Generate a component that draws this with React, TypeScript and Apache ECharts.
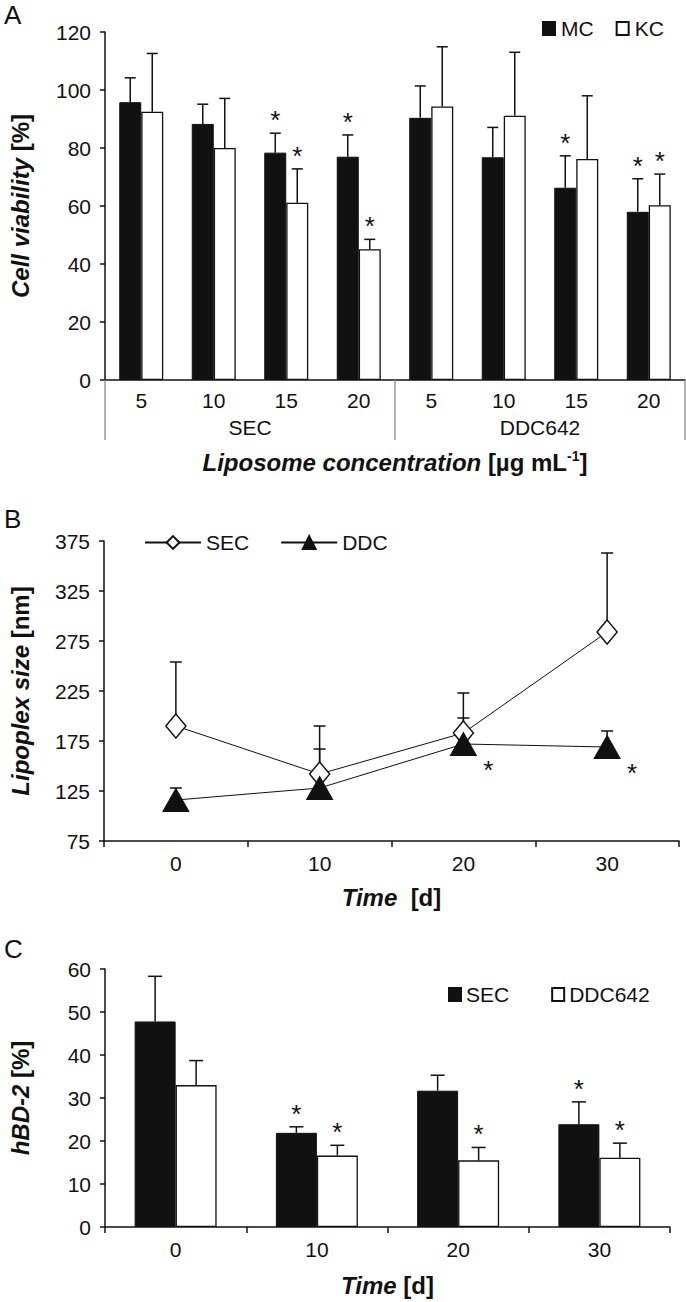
import React, { useEffect, useRef } from 'react';
import * as echarts from 'echarts';

const FONT = "'Liberation Sans', Arial, Helvetica, sans-serif";
const INK = '#111';

// ---------- Panel A: cell viability ----------
const concCategories = ['5', '10', '15', '20', '5', '10', '15', '20'];
const liposomeGroups = ['SEC', 'DDC642'];
const mcMean = [95.8, 88.3, 78.4, 77.0, 90.4, 76.8, 66.3, 58.0];
const mcSd = [8.4, 6.8, 6.7, 7.5, 11.0, 10.3, 11.0, 11.4];
const mcStar = [0, 0, 1, 1, 0, 0, 1, 1];
const kcMean = [92.5, 80.0, 61.1, 45.1, 94.3, 91.1, 76.2, 60.3];
const kcSd = [20.1, 17.1, 11.7, 3.4, 20.6, 21.9, 21.8, 10.7];
const kcStar = [0, 0, 1, 1, 0, 0, 0, 1];

// ---------- Panel B: lipoplex size ----------
const timeCategories = ['0', '10', '20', '30'];
const secSize = [190, 142, 183, 284];
const secSizeSd = [64, 48, 40, 79];
const secSizeStar = [0, 0, 0, 0];
const ddcSize = [116, 128, 172, 169];
const ddcSizeSd = [12, 39, 26, 16];
const ddcSizeStar = [0, 0, 1, 1];

// ---------- Panel C: hBD-2 ----------
const secHbd = [47.8, 21.9, 31.7, 23.9];
const secHbdSd = [10.5, 1.4, 3.6, 5.2];
const secHbdStar = [0, 1, 0, 1];
const ddcHbd = [33.0, 16.6, 15.5, 16.1];
const ddcHbdSd = [5.7, 2.4, 3.0, 3.4];
const ddcHbdStar = [0, 1, 1, 1];

const TICK = 21;
const TITLE = 24;

function errorSeries(
  xAxisIndex: number,
  yAxisIndex: number,
  means: number[],
  sds: number[],
  stars: number[],
  dx: number,
  capW: number,
  starMode: 'top' | 'point',
) {
  return {
    type: 'custom',
    xAxisIndex,
    yAxisIndex,
    z: 3,
    silent: true,
    data: means.map((m, i) => [i, m, sds[i], stars[i]]),
    encode: { x: 0, y: 1 },
    renderItem: (_p: any, api: any) => {
      const idx = api.value(0);
      const m = api.value(1);
      const s = api.value(2);
      const base = api.coord([idx, m]);
      const top = api.coord([idx, m + s]);
      const x = base[0] + dx;
      const st = { stroke: INK, lineWidth: 1.5 };
      const children: any[] = [
        { type: 'line', shape: { x1: x, y1: base[1], x2: x, y2: top[1] }, style: st },
        { type: 'line', shape: { x1: x - capW / 2, y1: top[1], x2: x + capW / 2, y2: top[1] }, style: st },
      ];
      if (api.value(3)) {
        const sx = starMode === 'top' ? x : x + 25;
        const sy = starMode === 'top' ? top[1] - 13 : base[1] + 26;
        children.push({
          type: 'text',
          x: sx,
          y: sy,
          style: {
            text: '*',
            fill: INK,
            font: `26px ${FONT}`,
            textAlign: 'center',
            textVerticalAlign: 'middle',
          },
        });
      }
      return { type: 'group', children };
    },
  };
}

const axisLabelStyle = { fontSize: TICK, color: INK, fontFamily: FONT };
const titleRich = {
  i: { fontStyle: 'italic', fontWeight: 'bold', fontSize: TITLE, fontFamily: FONT, color: INK, lineHeight: 26 },
  b: { fontWeight: 'bold', fontSize: TITLE, fontFamily: FONT, color: INK, lineHeight: 26 },
  sup: { fontWeight: 'bold', fontSize: 14, fontFamily: FONT, color: INK, verticalAlign: 'top', lineHeight: 26, padding: [0, 0, 12, 0] },
};

function yAxisCommon(gridIndex: number, min: number, max: number, interval: number, name: string, nameGap: number) {
  return {
    type: 'value',
    gridIndex,
    min,
    max,
    interval,
    name,
    nameLocation: 'middle',
    nameGap,
    nameTextStyle: { rich: titleRich },
    axisLine: { show: true, lineStyle: { color: INK, width: 1.5 } },
    axisTick: { show: true, length: 5, lineStyle: { color: INK, width: 1.5 } },
    splitLine: { show: false },
    axisLabel: { ...axisLabelStyle, margin: 14 },
  };
}

export default function App() {
  const ref = useRef<HTMLDivElement>(null);
  useEffect(() => {
    document.body.style.margin = '0';
    const chart = echarts.init(ref.current!, null, { renderer: 'svg' });
    const option: any = {
      animation: false,
      backgroundColor: '#fff',
      textStyle: { fontFamily: FONT },
      grid: [
        { left: 93, top: 32, width: 592, height: 348 },
        { left: 93, top: 541, width: 586, height: 300 },
        { left: 95, top: 969, width: 575, height: 258 },
      ],
      legend: [
        {
          data: ['MC', 'KC'],
          left: 542,
          top: 18,
          padding: 0,
          icon: 'rect',
          itemWidth: 12,
          itemHeight: 13,
          itemGap: 22,
          textStyle: { fontSize: TICK, color: INK, fontFamily: FONT, padding: [0, 0, 0, 1] },
        },
        {
          data: ['SEC_B', 'DDC_B'],
          left: 144,
          top: 532,
          padding: 0,
          itemWidth: 56,
          itemHeight: 16,
          itemGap: 31,
          formatter: (n: string) => n.replace(/_.*/, ''),
          textStyle: { fontSize: TICK, color: INK, fontFamily: FONT },
        },
        {
          data: ['SEC_C', 'DDC642_C'],
          left: 448,
          top: 984,
          padding: 0,
          icon: 'rect',
          itemWidth: 12,
          itemHeight: 13,
          itemGap: 42,
          formatter: (n: string) => n.replace(/_.*/, ''),
          textStyle: { fontSize: TICK, color: INK, fontFamily: FONT },
        },
      ],
      xAxis: [
        {
          type: 'category',
          gridIndex: 0,
          data: concCategories,
          axisLine: { lineStyle: { color: INK, width: 1.5 } },
          axisTick: { show: false },
          axisLabel: { ...axisLabelStyle, margin: 10, interval: 0 },
        },
        {
          type: 'category',
          gridIndex: 0,
          position: 'bottom',
          offset: 0,
          data: liposomeGroups,
          axisLine: { show: false },
          axisTick: { show: true, length: 60, interval: 0, lineStyle: { color: '#999', width: 1.5 } },
          axisLabel: { ...axisLabelStyle, margin: 37, interval: 0 },
          name: '{i|Liposome concentration }{b|[µg mL}{sup|-1}{b|]}',
          nameLocation: 'middle',
          nameGap: 69,
          nameTextStyle: { rich: titleRich },
        },
        {
          type: 'category',
          gridIndex: 1,
          data: timeCategories,
          axisLine: { lineStyle: { color: INK, width: 1.5 } },
          axisTick: { show: true, length: 6, interval: 0, lineStyle: { color: INK, width: 1.5 } },
          axisLabel: { ...axisLabelStyle, margin: 12 },
          name: '{i|Time  }{b|[d]}',
          nameLocation: 'middle',
          nameGap: 43,
          nameTextStyle: { rich: titleRich },
        },
        {
          type: 'category',
          gridIndex: 2,
          data: timeCategories,
          axisLine: { lineStyle: { color: INK, width: 1.5 } },
          axisTick: { show: true, length: 6, interval: 0, lineStyle: { color: INK, width: 1.5 } },
          axisLabel: { ...axisLabelStyle, margin: 12 },
          name: '{i|Time }{b|[d]}',
          nameLocation: 'middle',
          nameGap: 45,
          nameTextStyle: { rich: titleRich },
        },
      ],
      yAxis: [
        yAxisCommon(0, 0, 120, 20, '{i|Cell viability }{b|[%]}', 72),
        yAxisCommon(1, 75, 375, 50, '{i|Lipoplex size }{b|[nm]}', 71),
        yAxisCommon(2, 0, 60, 10, '{i|hBD-2 }{b|[%]}', 72),
      ],
      series: [
        {
          name: 'MC',
          type: 'bar',
          xAxisIndex: 0,
          yAxisIndex: 0,
          data: mcMean,
          barWidth: 22,
          barGap: '0%',
          itemStyle: { color: INK, borderColor: INK, borderWidth: 1 },
        },
        {
          name: 'KC',
          type: 'bar',
          xAxisIndex: 0,
          yAxisIndex: 0,
          data: kcMean,
          barWidth: 22,
          barGap: '0%',
          itemStyle: { color: '#fff', borderColor: INK, borderWidth: 1.3 },
        },
        errorSeries(0, 0, mcMean, mcSd, mcStar, -11, 11, 'top'),
        errorSeries(0, 0, kcMean, kcSd, kcStar, 11, 11, 'top'),
        errorSeries(2, 1, secSize, secSizeSd, secSizeStar, 0, 12, 'point'),
        errorSeries(2, 1, ddcSize, ddcSizeSd, ddcSizeStar, 0, 12, 'point'),
        {
          name: 'SEC_B',
          type: 'line',
          xAxisIndex: 2,
          yAxisIndex: 1,
          z: 5,
          data: secSize,
          symbol: 'diamond',
          symbolSize: [20, 24],
          lineStyle: { color: INK, width: 1 },
          itemStyle: { color: '#fff', borderColor: INK, borderWidth: 1.5 },
        },
        {
          name: 'DDC_B',
          type: 'line',
          xAxisIndex: 2,
          yAxisIndex: 1,
          z: 5,
          data: ddcSize,
          symbol: 'triangle',
          symbolSize: [26, 23],
          lineStyle: { color: INK, width: 1 },
          itemStyle: { color: INK, borderColor: INK, borderWidth: 1 },
        },
        {
          name: 'SEC_C',
          type: 'bar',
          xAxisIndex: 3,
          yAxisIndex: 2,
          data: secHbd,
          barWidth: 41,
          barGap: '0%',
          itemStyle: { color: INK, borderColor: INK, borderWidth: 1 },
        },
        {
          name: 'DDC642_C',
          type: 'bar',
          xAxisIndex: 3,
          yAxisIndex: 2,
          data: ddcHbd,
          barWidth: 41,
          barGap: '0%',
          itemStyle: { color: '#fff', borderColor: INK, borderWidth: 1.3 },
        },
        errorSeries(3, 2, secHbd, secHbdSd, secHbdStar, -20.5, 14, 'top'),
        errorSeries(3, 2, ddcHbd, ddcHbdSd, ddcHbdStar, 20.5, 14, 'top'),
      ],
      graphic: [
        { type: 'text', left: 4, top: 2, style: { text: 'A', font: `26px ${FONT}`, fill: INK } },
        { type: 'text', left: 4, top: 506, style: { text: 'B', font: `26px ${FONT}`, fill: INK } },
        { type: 'text', left: 4, top: 936, style: { text: 'C', font: `26px ${FONT}`, fill: INK } },
      ],
    };
    chart.setOption(option);
    return () => chart.dispose();
  }, []);
  return <div ref={ref} style={{ width: 686, height: 1302 }} />;
}
